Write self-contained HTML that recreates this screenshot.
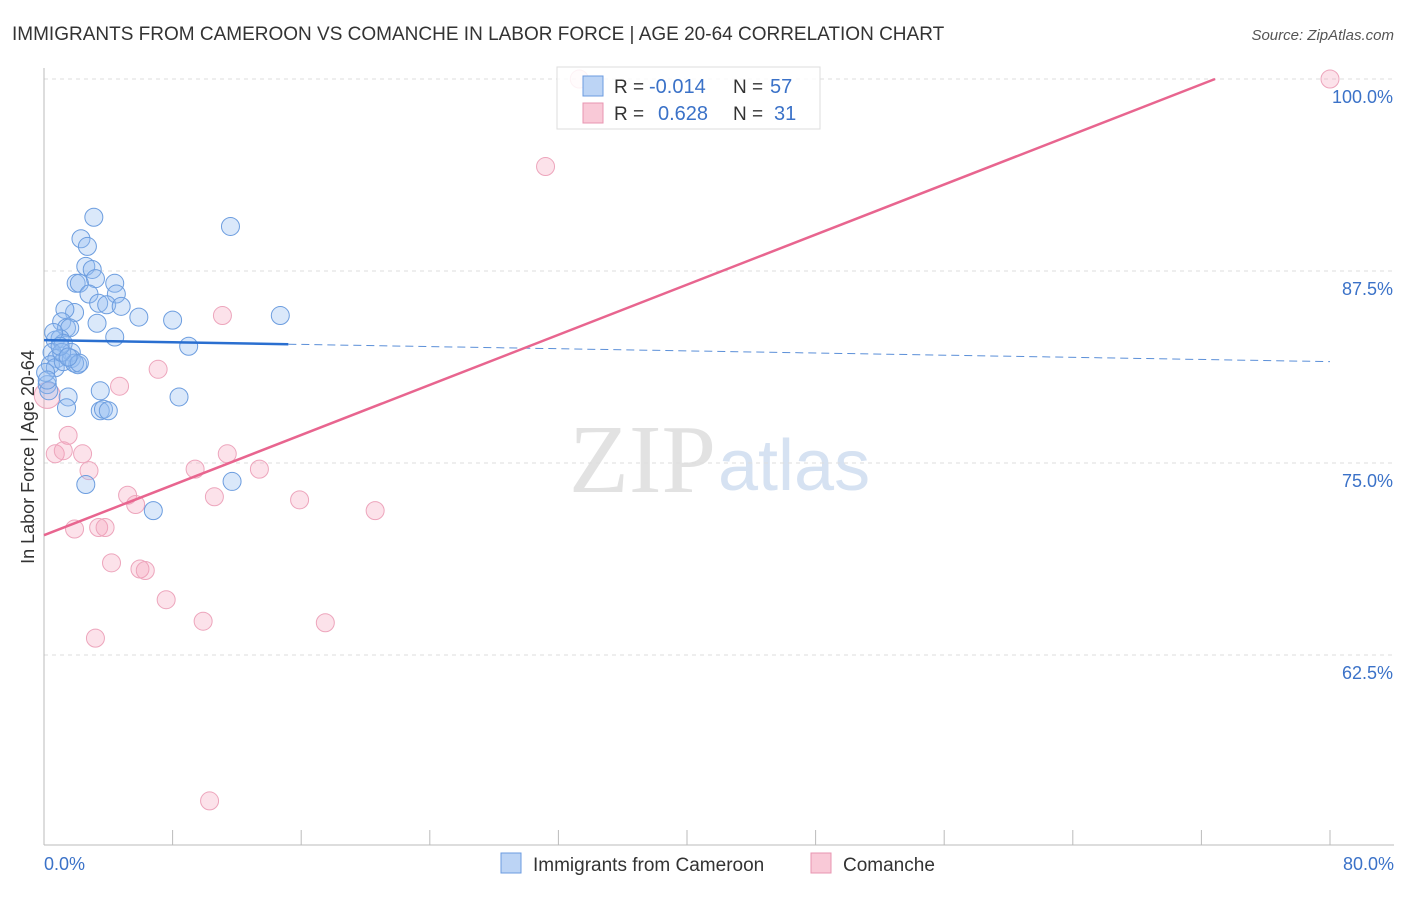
<!DOCTYPE html>
<html><head><meta charset="utf-8"><style>
body{margin:0;background:#fff;font-family:"Liberation Sans",sans-serif}
</style></head><body>
<svg width="1406" height="892" xmlns="http://www.w3.org/2000/svg" font-family="Liberation Sans, sans-serif">
<text x="12" y="40" font-size="19" fill="#333">IMMIGRANTS FROM CAMEROON VS COMANCHE IN LABOR FORCE | AGE 20-64 CORRELATION CHART</text>
<text x="1394" y="40" font-size="15" fill="#555" text-anchor="end" font-style="italic">Source: ZipAtlas.com</text>
<text x="716" y="492" font-size="98" fill="#e2e2e2" text-anchor="end" font-family="Liberation Serif, serif">ZIP</text>
<text x="718" y="490" font-size="72" fill="#d6e2f2">atlas</text>
<g id="grid"></g>
<g id="axes"></g>
<g id="pts"></g>
<g id="lines"></g>
<text x="34" y="457" font-size="18" fill="#333" text-anchor="middle" transform="rotate(-90 34 457)">In Labor Force | Age 20-64</text>
<text x="44" y="870" font-size="18" fill="#3b72c8">0.0%</text>
<text x="1394" y="870" font-size="18" fill="#3b72c8" text-anchor="end">80.0%</text>
<g>
<rect x="557" y="67" width="263" height="62" fill="rgba(255,255,255,0.85)" stroke="#ddd"/>
<rect x="583" y="76" width="20" height="20" fill="#bcd4f5" stroke="#6b9be0"/>
<rect x="583" y="103" width="20" height="20" fill="#f9c9d7" stroke="#e895b0"/>
<text x="614" y="93" font-size="19" fill="#333">R =</text>
<text x="649" y="93" font-size="20" fill="#3b72c8">-0.014</text>
<text x="733" y="93" font-size="19" fill="#333">N =</text>
<text x="770" y="93" font-size="20" fill="#3b72c8">57</text>
<text x="614" y="120" font-size="19" fill="#333">R =</text>
<text x="658" y="120" font-size="20" fill="#3b72c8">0.628</text>
<text x="733" y="120" font-size="19" fill="#333">N =</text>
<text x="774" y="120" font-size="20" fill="#3b72c8">31</text>
</g>
<g>
<rect x="501" y="853" width="20" height="20" fill="#bcd4f5" stroke="#6b9be0"/>
<text x="533" y="871" font-size="19" fill="#333">Immigrants from Cameroon</text>
<rect x="811" y="853" width="20" height="20" fill="#f9c9d7" stroke="#e895b0"/>
<text x="843" y="871" font-size="19" fill="#333">Comanche</text>
</g>
</svg>
<script>
const yTicks=[100,87.5,75,62.5];
const yTickLabels=["100.0%","87.5%","75.0%","62.5%"];
const blueX=[3.1,2.3,2.7,11.6,2.6,3.0,3.2,2.0,2.2,2.8,4.4,4.5,3.4,3.9,4.8,1.9,1.3,1.1,1.4,1.6,3.3,5.9,8.0,14.7,4.4,9.0,0.7,1.0,1.2,0.5,0.8,1.7,0.4,0.7,1.2,1.7,2.1,1.9,0.2,0.3,3.5,1.5,1.4,8.4,3.5,3.7,4.0,2.6,11.7,6.8,0.1,2.2,1.1,0.6,0.2,1.0,1.5];
const blueY=[91.0,89.6,89.1,90.4,87.8,87.6,87.0,86.7,86.7,86.0,86.7,86.0,85.4,85.3,85.2,84.8,85.0,84.2,83.8,83.8,84.1,84.5,84.3,84.6,83.2,82.6,83.0,83.1,82.8,82.2,81.8,82.2,81.4,81.2,81.6,81.8,81.4,81.5,80.1,79.7,79.7,79.3,78.6,79.3,78.4,78.5,78.4,73.6,73.8,71.9,80.9,81.5,82.2,83.5,80.4,82.6,81.9];
const pinkX=[33.3,80,31.2,11.1,7.1,4.7,0.2,1.5,0.7,1.2,2.4,2.8,5.2,5.7,11.4,9.4,13.4,10.6,15.9,20.6,1.9,3.4,3.8,4.2,5.97,6.3,7.6,9.9,17.5,3.2,10.3];
const pinkY=[100,100,94.3,84.6,81.1,80.0,79.4,76.8,75.6,75.8,75.6,74.5,72.9,72.3,75.6,74.6,74.6,72.8,72.6,71.9,70.7,70.8,70.8,68.5,68.1,68.0,66.1,64.7,64.6,63.6,53.0];
const blueTrend=[83.0,-0.0175];
const pinkTrend=[70.3,0.4077];
const NS="http://www.w3.org/2000/svg";
const X=v=>44+v/80*1286, Y=v=>79+(100-v)*15.36;
function mk(t,a,p){const e=document.createElementNS(NS,t);for(const k in a)e.setAttribute(k,a[k]);document.getElementById(p).appendChild(e);return e;}
yTicks.forEach((t,i)=>{
const g=mk('line',{x1:44,x2:1394,y1:Y(t),y2:Y(t),stroke:'#ddd','stroke-dasharray':'4 4'},'grid');


const l=mk('text',{x:1393,y:Y(t)+24,'font-size':18,fill:'#3b72c8','text-anchor':'end'},'grid');
l.textContent=yTickLabels[i];


});
const ax=mk('line',{x1:44,x2:44,y1:68,y2:845,stroke:'#bbb'},'axes');


const bx=mk('line',{x1:44,x2:1394,y1:845,y2:845,stroke:'#bbb'},'axes');


for(let i=1;i<=10;i++){const tk=mk('line',{x1:44+i*128.6,x2:44+i*128.6,y1:830,y2:845,stroke:'#bbb'},'axes');

}
pinkX.forEach((x,i)=>{const c=mk('circle',{cx:X(x),cy:Y(pinkY[i]),r:i==6?13:9,fill:'rgba(244,160,185,0.3)',stroke:'#eda5bc','stroke-width':1},'pts');

});
blueX.forEach((x,i)=>{const c=mk('circle',{cx:X(x),cy:Y(blueY[i]),r:9,fill:'rgba(150,190,240,0.35)',stroke:'#6c9ddf','stroke-width':1},'pts');

});
const bl=mk('line',{x1:X(0),y1:Y(blueTrend[0]),x2:X(15.2),y2:Y(blueTrend[0]+blueTrend[1]*15.2),stroke:'#2a6fd0','stroke-width':2.5},'lines');


const bd=mk('line',{x1:X(15.2),y1:Y(blueTrend[0]+blueTrend[1]*15.2),x2:X(80),y2:Y(blueTrend[0]+blueTrend[1]*80),stroke:'#5b8fd8','stroke-width':1,'stroke-dasharray':'8 5'},'lines');


const xe=(100-pinkTrend[0])/pinkTrend[1];
const pl=mk('line',{x1:X(0),y1:Y(pinkTrend[0]),x2:X(xe),y2:Y(100),stroke:'#e8658f','stroke-width':2.5},'lines');


</script>
</body></html>
